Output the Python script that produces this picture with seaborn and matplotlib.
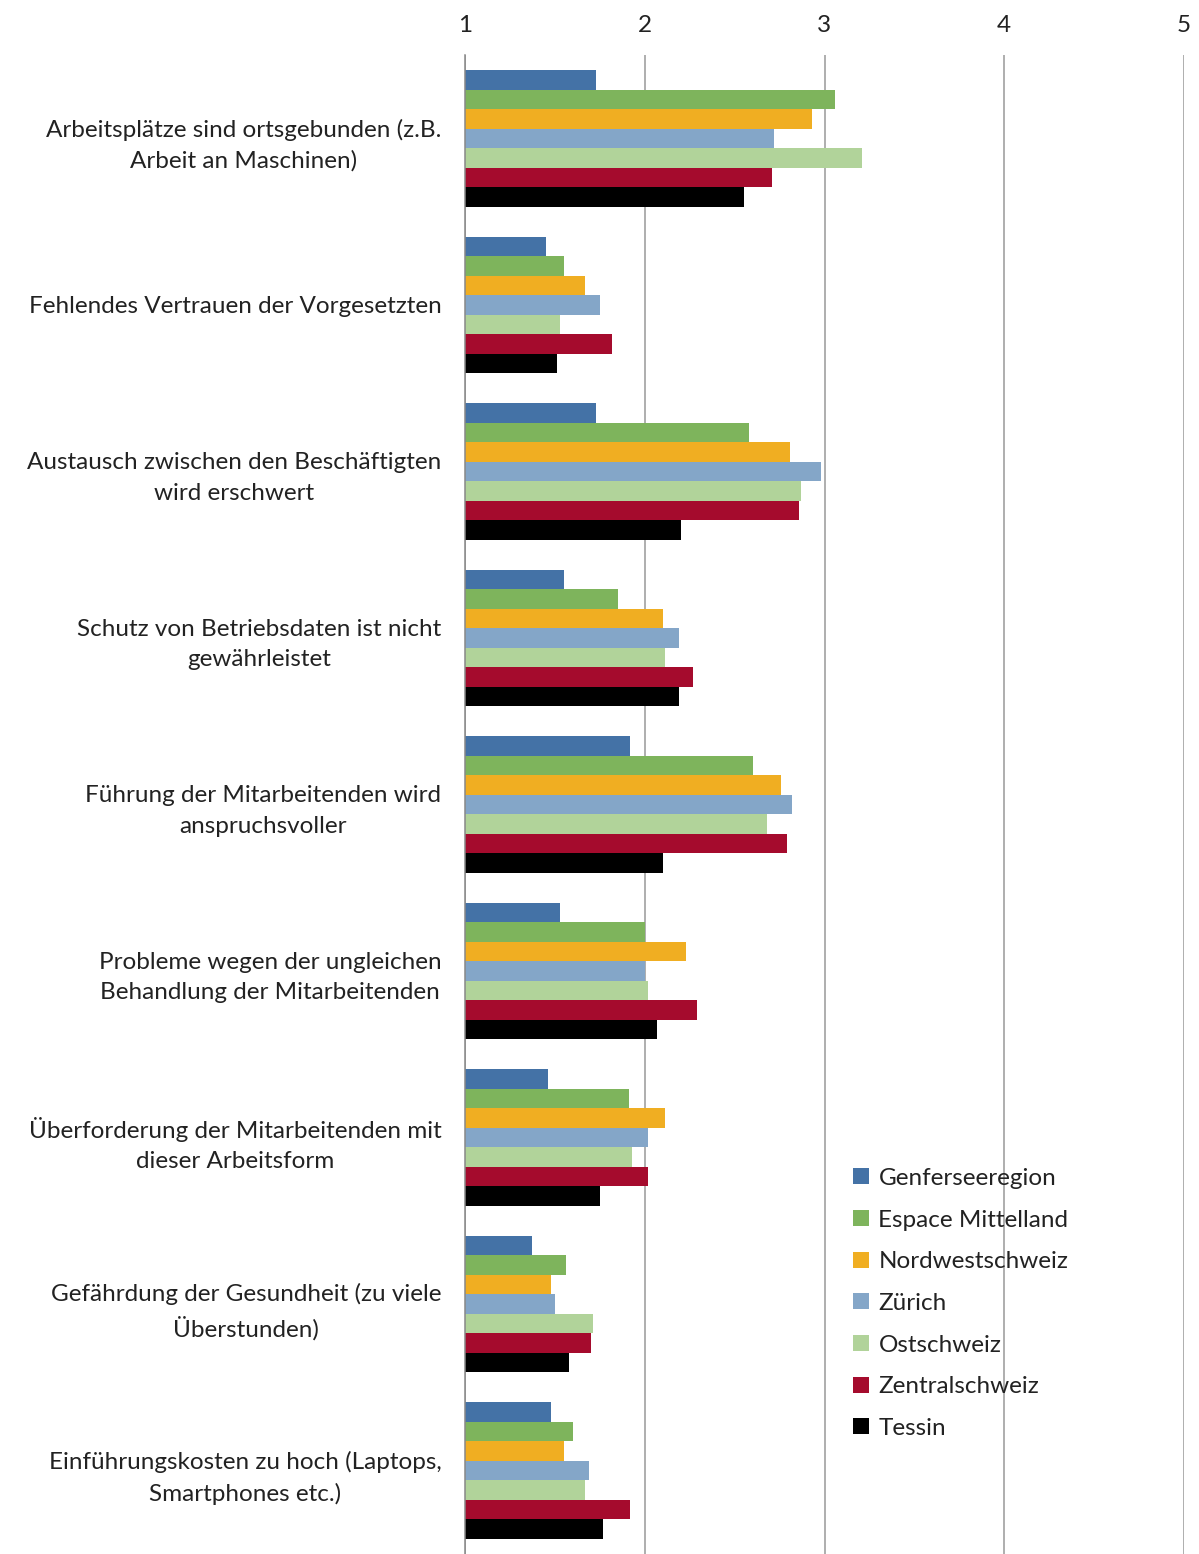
import pandas as pd
import matplotlib.pyplot as plt
import seaborn as sns

categories = [
    "Arbeitsplätze sind ortsgebunden (z.B.\nArbeit an Maschinen)",
    "Fehlendes Vertrauen der Vorgesetzten",
    "Austausch zwischen den Beschäftigten\nwird erschwert",
    "Schutz von Betriebsdaten ist nicht\ngewährleistet",
    "Führung der Mitarbeitenden wird\nanspruchsvoller",
    "Probleme wegen der ungleichen\nBehandlung der Mitarbeitenden",
    "Überforderung der Mitarbeitenden mit\ndieser Arbeitsform",
    "Gefährdung der Gesundheit (zu viele\nÜberstunden)",
    "Einführungskosten zu hoch (Laptops,\nSmartphones etc.)",
]
regions = ["Genferseeregion", "Espace Mittelland", "Nordwestschweiz", "Zürich",
           "Ostschweiz", "Zentralschweiz", "Tessin"]

genf = [1.73, 1.45, 1.73, 1.55, 1.92, 1.53, 1.46, 1.37, 1.48]
espace = [3.06, 1.55, 2.58, 1.85, 2.60, 2.00, 1.91, 1.56, 1.60]
nordwest = [2.93, 1.67, 2.81, 2.10, 2.76, 2.23, 2.11, 1.48, 1.55]
zuerich = [2.72, 1.75, 2.98, 2.19, 2.82, 2.00, 2.02, 1.50, 1.69]
ost = [3.21, 1.53, 2.87, 2.11, 2.68, 2.02, 1.93, 1.71, 1.67]
zentral = [2.71, 1.82, 2.86, 2.27, 2.79, 2.29, 2.02, 1.70, 1.92]
tessin = [2.55, 1.51, 2.20, 2.19, 2.10, 2.07, 1.75, 1.58, 1.77]

colors = ["#4472A6", "#7EB45C", "#F0AE22", "#84A6C8", "#B1D39A", "#A50B2D", "#000000"]

series = [genf, espace, nordwest, zuerich, ost, zentral, tessin]
rows = []
for reg, vals in zip(regions, series):
    for cat, v in zip(categories, vals):
        rows.append({"Kategorie": cat, "Region": reg, "Wert": v})
df = pd.DataFrame(rows)

sns.set_style("white")
plt.rcParams["font.family"] = ["Lato", "DejaVu Sans"]

fig = plt.figure(figsize=(11.99, 15.54), dpi=100)
ax = fig.add_axes([465 / 1199, 0, 719 / 1199, 1499 / 1554])

sns.barplot(data=df, y="Kategorie", x="Wert", hue="Region", order=categories,
            hue_order=regions, palette=colors, orient="h", width=0.82,
            saturation=1, linewidth=0, ax=ax)

fs = 17.5
ax.set_xlim(1, 5)
ax.set_ylim(8.46, -0.5)
ax.set_xticks([1, 2, 3, 4, 5])
ax.xaxis.tick_top()
ax.tick_params(axis="x", length=0, labelsize=fs, pad=14, colors="#222222")
ax.grid(axis="x", color="#999999", linewidth=1.1)
ax.set_axisbelow(True)
ax.set_xlabel("")
ax.set_ylabel("")

ax.set_yticks(range(len(categories)))
ax.set_yticklabels(categories, fontsize=fs, color="#222222", linespacing=1.55,
                   multialignment="center")
ax.set_yticks([i - 0.5 for i in range(len(categories) + 1)], minor=True)
ax.tick_params(axis="y", which="major", length=0, pad=17)
ax.tick_params(axis="y", which="minor", length=7, color="#888888", width=1.1)

for side in ["top", "right", "bottom"]:
    ax.spines[side].set_visible(False)
ax.spines["left"].set_color("#888888")
ax.spines["left"].set_linewidth(1.1)

handles, labels = ax.get_legend_handles_labels()
ax.legend(handles, labels, loc="upper left", bbox_to_anchor=(831 / 1199, 1 - 1146 / 1554),
          bbox_transform=fig.transFigure, frameon=False, fontsize=fs,
          handlelength=0.65, handleheight=0.65, handletextpad=0.4, labelspacing=0.85,
          labelcolor="#222222")

fig.savefig("out.png", dpi=100)
